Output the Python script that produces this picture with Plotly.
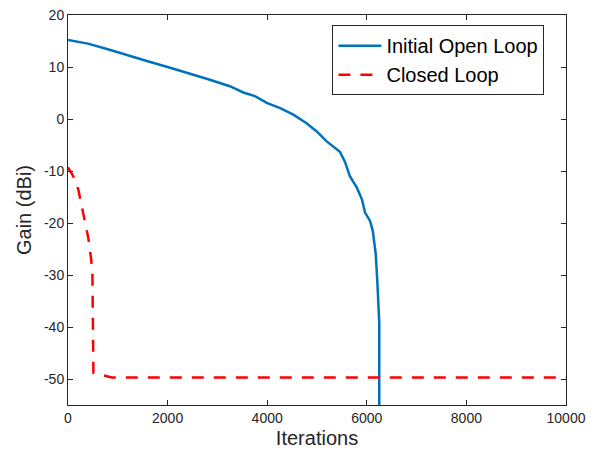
import plotly.graph_objects as go

# Initial open loop (blue)
open_iter = [0, 400, 800, 1200, 1600, 2000, 2400, 2800, 3250, 3400, 3520, 3755, 3990, 4260, 4525,
             4790, 4995, 5195, 5330, 5460, 5560, 5660, 5800, 5900, 5965, 6065, 6120, 6150,
             6180, 6215, 6240, 6250, 6250]
open_gain = [15.2, 14.5, 13.4, 12.2, 11.1, 10.0, 8.9, 7.7, 6.3, 5.6, 5.1, 4.4, 3.1, 2.1, 0.85,
             -0.8, -2.4, -4.3, -5.4, -6.3, -8.2, -11.0, -13.2, -15.4, -18.0, -19.6, -21.5, -23.5,
             -26.0, -32.0, -39.2, -39.2, -56]

# Closed loop (red dashed)
closed_iter = [0, 105, 205, 310, 410, 465, 490, 510, 745, 880, 10000]
closed_gain = [-9.3, -11.0, -13.5, -18.7, -23.0, -27.0, -29.6, -48.8, -49.4, -49.7, -49.7]

x_ticks = [0, 2000, 4000, 6000, 8000, 10000]
y_ticks = [-50, -40, -30, -20, -10, 0, 10, 20]

FONT = "Liberation Sans, Arial"

fig = go.Figure()
fig.add_trace(go.Scatter(x=open_iter, y=open_gain, mode="lines", name="Initial Open Loop",
                         line=dict(color="#0072BD", width=2.5)))
fig.add_trace(go.Scatter(x=closed_iter, y=closed_gain, mode="lines", name="Closed Loop",
                         line=dict(color="#FF0000", width=2.5, dash="12px,10px")))

axis_common = dict(showline=True, linecolor="#262626", linewidth=1, mirror="allticks",
                   ticks="inside", ticklen=5, tickcolor="#262626", showgrid=False, zeroline=False,
                   automargin=False,
                   tickfont=dict(family=FONT, size=14, color="#262626"))

fig.update_xaxes(range=[0, 10000], tickvals=x_ticks, ticktext=[str(v) for v in x_ticks],
                 title=dict(text="Iterations", font=dict(family=FONT, size=20, color="#262626"), standoff=6),
                 **axis_common)
fig.update_yaxes(range=[-55, 20], tickvals=y_ticks, ticktext=[str(v) for v in y_ticks],
                 title=dict(text="Gain (dBi)", font=dict(family=FONT, size=20, color="#262626"), standoff=6),
                 **axis_common)

fig.update_layout(
    width=593, height=455,
    margin=dict(l=68, r=27, t=15, b=50),
    paper_bgcolor="white", plot_bgcolor="white",
    showlegend=True,
    legend=dict(x=0.531, y=0.974, xanchor="left", yanchor="top",
                bgcolor="white", bordercolor="#262626", borderwidth=1,
                font=dict(family=FONT, size=20, color="#000000"),
                tracegroupgap=0, itemwidth=43),
)

fig.write_html("out.html")
